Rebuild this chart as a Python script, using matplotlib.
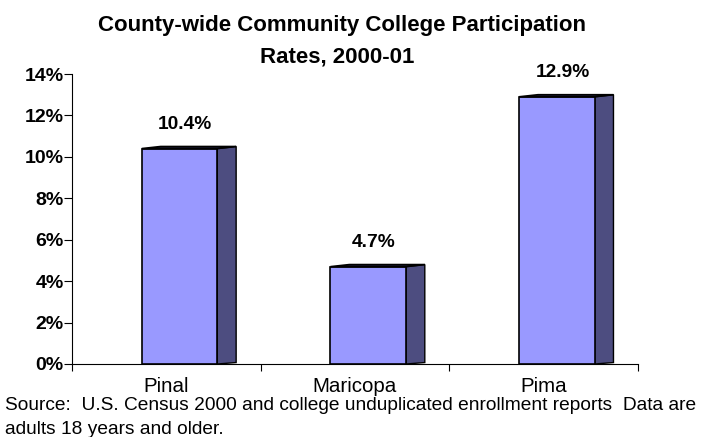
import matplotlib.pyplot as plt
from matplotlib.patches import Polygon

counties = ["Pinal", "Maricopa", "Pima"]
rates = [10.4, 4.7, 12.9]
rate_labels = ["10.4%", "4.7%", "12.9%"]

plt.rcParams['font.family'] = ['Liberation Sans', 'DejaVu Sans']

fig = plt.figure(figsize=(7.08, 4.37), dpi=100)
ax = fig.add_axes([72 / 708, 1 - 364 / 437, (638 - 72) / 708, (364 - 74) / 437])

front = '#9999FF'
side = '#4D4D80'
left_off, width, depth, rise = 0.37, 0.40, 0.10, 0.10

pos = [i + left_off for i in range(len(counties))]
ax.bar(pos, rates, width=width, align='edge', color=front, edgecolor='black',
       linewidth=1.2, zorder=3)

for x0, v in zip(pos, rates):
    x1 = x0 + width
    ax.add_patch(Polygon([(x1, 0), (x1 + depth, rise * 0.7), (x1 + depth, v + rise), (x1, v)],
                         closed=True, facecolor=side, edgecolor='black', linewidth=1.0, zorder=2))
    ax.add_patch(Polygon([(x0, v), (x1, v), (x1 + depth, v + rise), (x0 + depth, v + rise)],
                         closed=True, facecolor='#222244', edgecolor='black', linewidth=1.2, zorder=4))

for i, (v, lab) in enumerate(zip(rates, rate_labels)):
    ax.text(i + 0.6, v + 1.15, lab, ha='center', va='center', fontsize=13.8,
            fontweight='bold')

ax.set_xlim(0, 3)
ax.set_ylim(0, 14)
ax.set_yticks(range(0, 15, 2))
ax.set_yticklabels([f"{t}%" for t in range(0, 15, 2)], fontsize=14, fontweight='bold')
ax.set_xticks([0, 1, 2, 3])
ax.set_xticklabels([])
ax.set_xticks([0.5, 1.5, 2.5], minor=True)
ax.set_xticklabels(counties, minor=True, fontsize=14.8)
ax.tick_params(axis='x', which='minor', length=0, pad=9)
ax.tick_params(axis='x', which='major', length=5, direction='out', width=0.8)
ax.tick_params(axis='y', length=6, direction='out', width=0.8, pad=0)

for s in ['top', 'right']:
    ax.spines[s].set_visible(False)
for s in ['left', 'bottom']:
    ax.spines[s].set_linewidth(0.8)

fig.text(342 / 708, 1 - 25 / 437, "County-wide Community College Participation",
         ha='center', va='center', fontsize=16, fontweight='bold')
fig.text(337 / 708, 1 - 57 / 437, "Rates, 2000-01",
         ha='center', va='center', fontsize=16, fontweight='bold')

fig.text(5 / 708, 1 - 405 / 437,
         "Source:  U.S. Census 2000 and college unduplicated enrollment reports  Data are",
         ha='left', va='center', fontsize=13.8)
fig.text(5 / 708, 1 - 429 / 437, "adults 18 years and older.",
         ha='left', va='center', fontsize=13.8)

plt.savefig("out.png", dpi=100)
